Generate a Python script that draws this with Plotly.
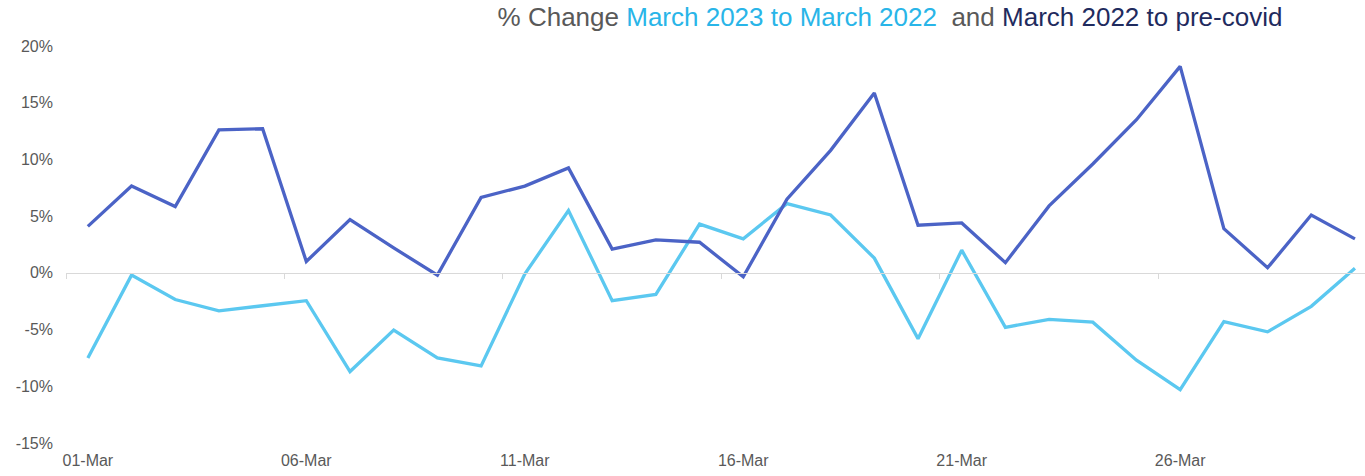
import plotly.graph_objects as go

days = [f"{d:02d}-Mar" for d in range(1, 31)]

# % change March 2023 vs March 2022
chg_2023_vs_2022 = [-7.5, -0.2, -2.35, -3.35, -2.9, -2.45, -8.7, -5.05, -7.5, -8.2,
                    -0.1, 5.5, -2.45, -1.9, 4.3, 3.0, 6.1, 5.1, 1.3, -5.8,
                    2.0, -4.8, -4.1, -4.35, -7.7, -10.3, -4.3, -5.2, -2.95, 0.4]

# % change March 2022 vs pre-covid
chg_2022_vs_precovid = [4.1, 7.65, 5.85, 12.6, 12.7, 1.0, 4.7, 2.2, -0.2, 6.65,
                        7.65, 9.25, 2.1, 2.9, 2.7, -0.35, 6.5, 10.8, 15.85, 4.2,
                        4.4, 0.9, 5.9, 9.6, 13.5, 18.2, 3.9, 0.45, 5.1, 3.0]

y_ticks = [-15, -10, -5, 0, 5, 10, 15, 20]
y_tick_text = ["-15%", "-10%", "-5%", "0%", "5%", "10%", "15%", "20%"]

LIGHT = "#5BC8F0"
DARK = "#4B63C6"
GREY = "#595959"
AXIS = "#D9D9D9"
FONT = "Liberation Sans, Arial, sans-serif"

fig = go.Figure()
fig.add_trace(go.Scatter(x=days, y=chg_2023_vs_2022, mode="lines",
                         line=dict(color=LIGHT, width=3.3),
                         name="March 2023 to March 2022", xaxis="x", yaxis="y"))
fig.add_trace(go.Scatter(x=days, y=chg_2022_vs_precovid, mode="lines",
                         line=dict(color=DARK, width=3.3),
                         name="March 2022 to pre-covid", xaxis="x2", yaxis="y"))

ymin, ymax = y_ticks[0], y_ticks[-1]
zero_pos = (0 - ymin) / (ymax - ymin)
xrange = [-0.5, 29.23]

fig.update_layout(
    width=1365, height=476,
    margin=dict(l=66, r=0, t=46, b=33),
    paper_bgcolor="white", plot_bgcolor="white",
    showlegend=False,
    font=dict(family=FONT, color=GREY, size=16),
    title=dict(
        text=("% Change <span style='color:#29B5E8'>March 2023 to March 2022</span>"
              "&nbsp; and <span style='color:#1F2B5E'>March 2022 to pre-covid</span>"),
        font=dict(size=26, color=GREY, family=FONT),
        x=0.652, xanchor="center", xref="container",
        y=1 - 17 / 476, yanchor="middle", yref="container",
    ),
    xaxis=dict(type="category", range=xrange, showgrid=False, zeroline=False,
               showline=False, ticks="", dtick=5, tickfont=dict(size=16, color=GREY),
               ticklabelstandoff=6),
    xaxis2=dict(type="category", overlaying="x", matches="x", anchor="free",
                position=zero_pos, side="bottom", range=xrange,
                showgrid=False, zeroline=False, showline=True, linecolor=AXIS,
                linewidth=1, ticks="outside", tickson="boundaries", ticklen=5,
                tickcolor=AXIS, dtick=5, showticklabels=False),
    yaxis=dict(range=[ymin, ymax], tickvals=y_ticks, ticktext=y_tick_text,
               showgrid=False, zeroline=False, showline=False, ticks="",
               tickfont=dict(size=16, color=GREY), ticklabelstandoff=12),
)

fig.write_html("out.html", config={"displayModeBar": False},
               post_script="document.body.style.margin='0';document.body.style.overflow='hidden';")
